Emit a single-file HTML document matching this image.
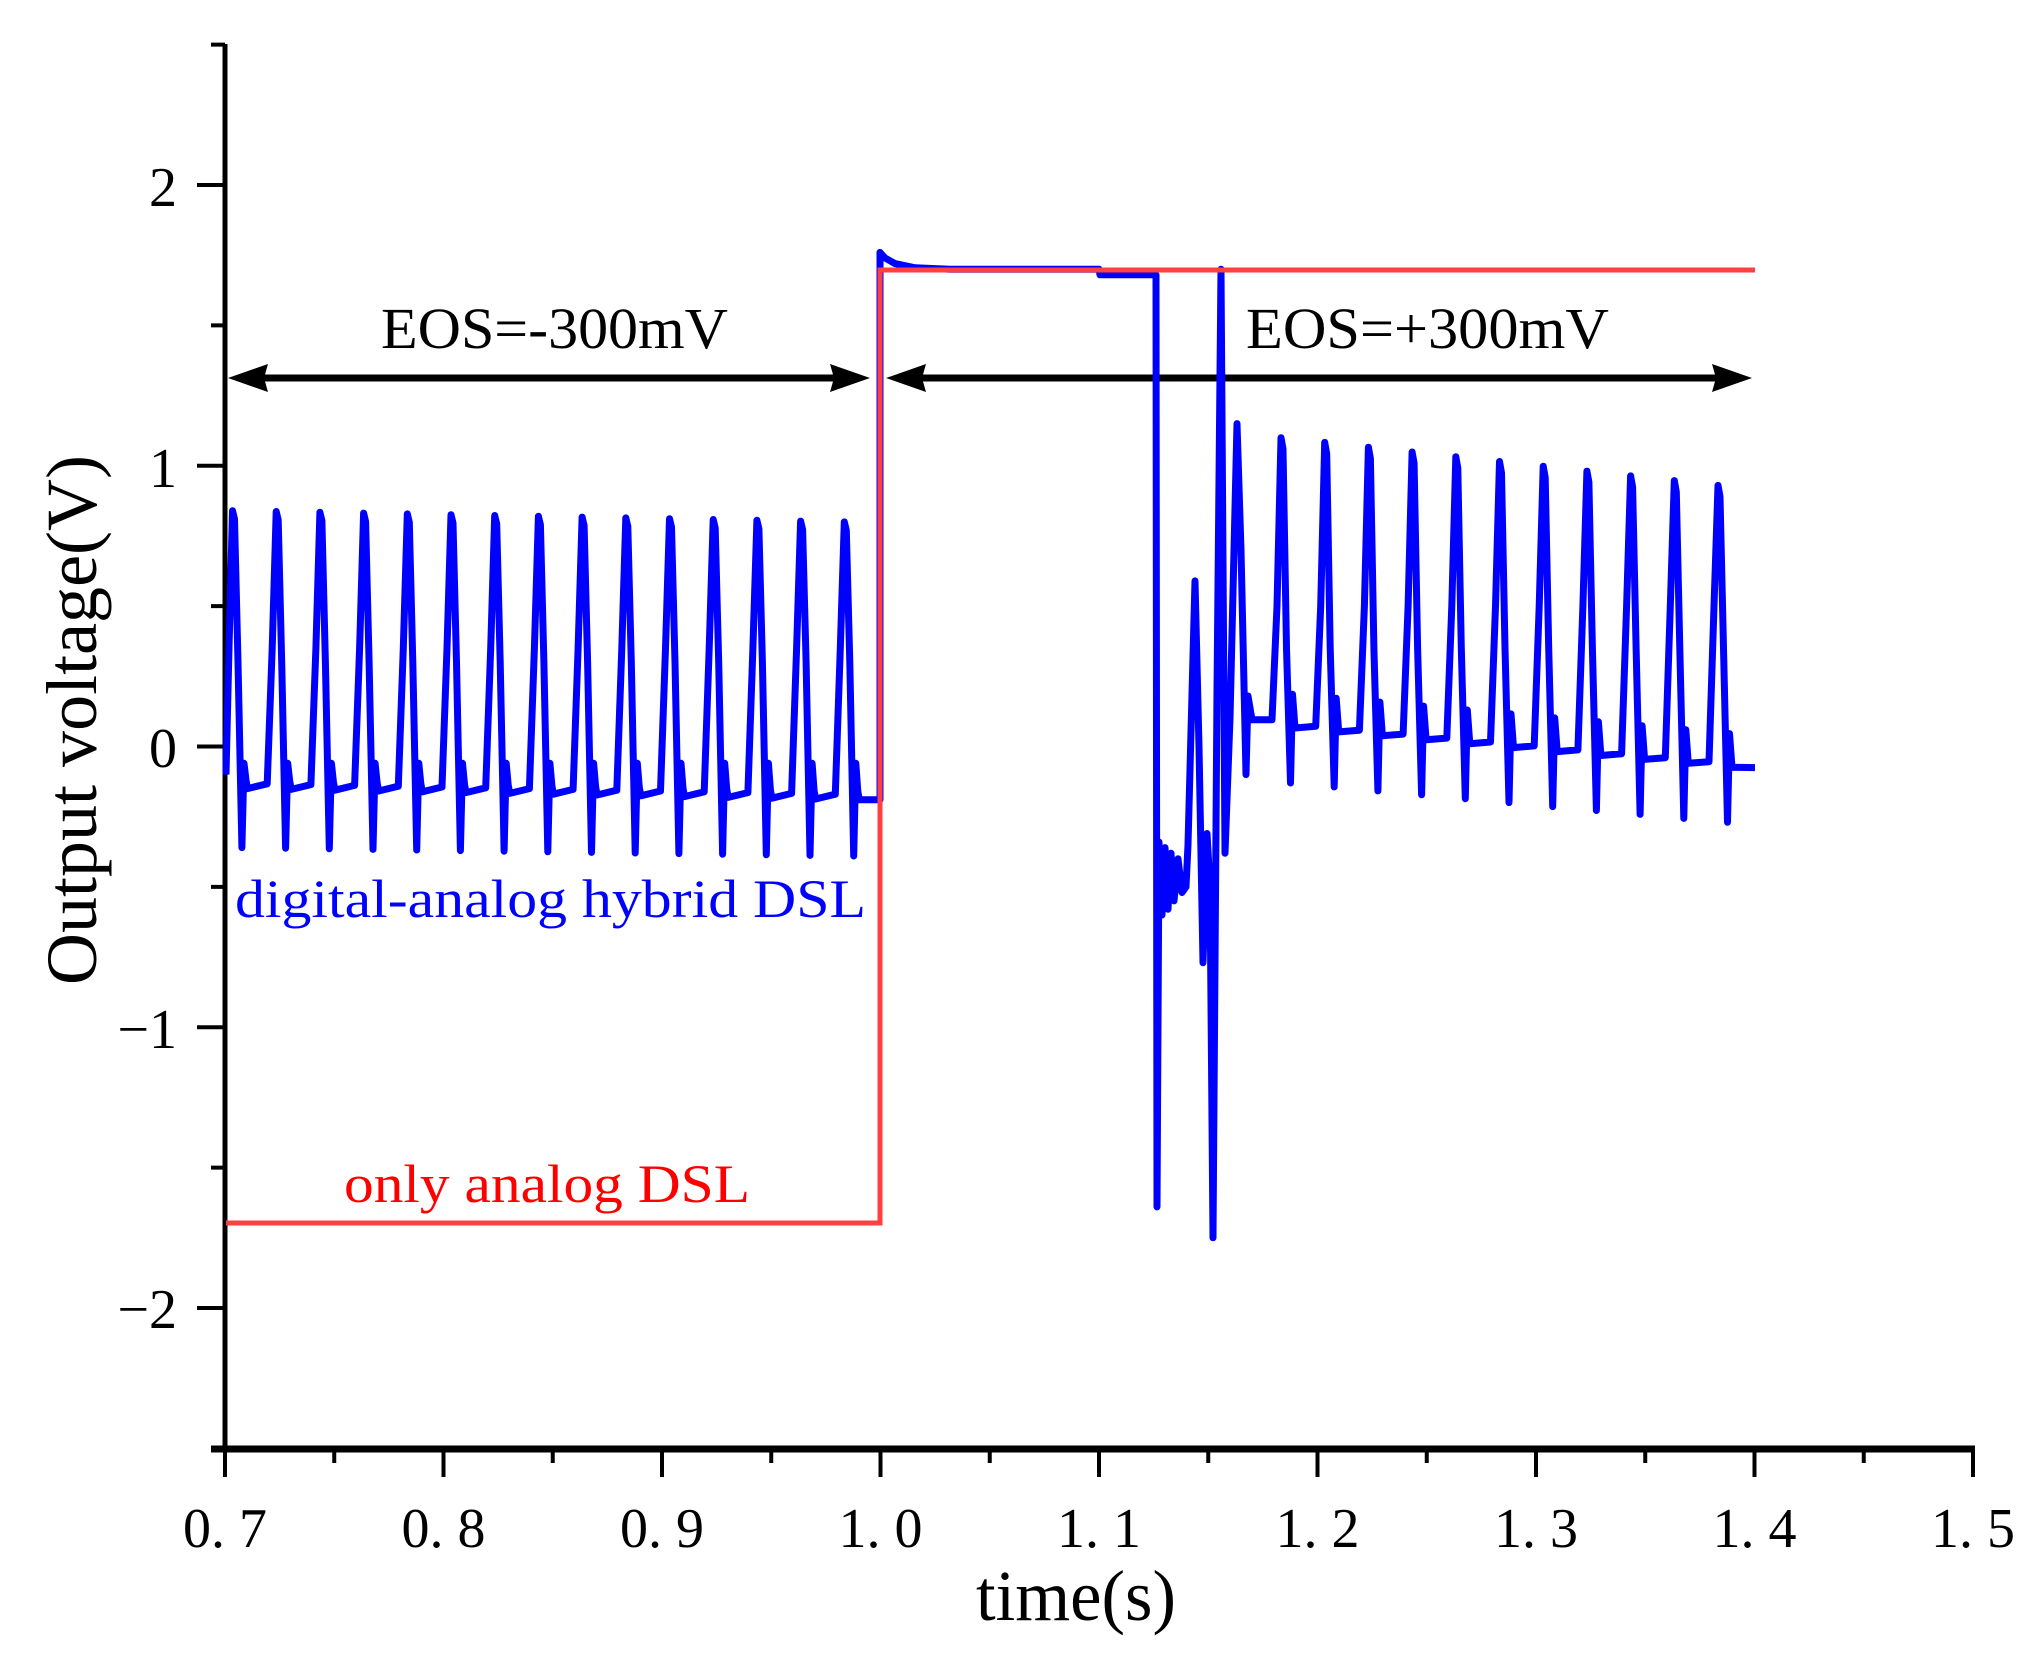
<!DOCTYPE html>
<html><head><meta charset="utf-8"><style>html,body{margin:0;padding:0;background:#fff}svg{display:block}text{font-family:"Liberation Serif","Times New Roman",serif}</style></head>
<body>
<svg id="s" width="2040" height="1675" viewBox="0 0 2040 1675" xmlns="http://www.w3.org/2000/svg">
<rect width="2040" height="1675" fill="#fff"/>
<g id="ticks" stroke="#000" stroke-width="4"></g>
<line x1="225" y1="44" x2="225" y2="1452" stroke="#000" stroke-width="5"/>
<line x1="211" y1="1449" x2="1975" y2="1449" stroke="#000" stroke-width="7"/>
<g font-size="56" text-anchor="end">
<text x="177" y="206">2</text>
<text x="177" y="487">1</text>
<text x="177" y="767">0</text>
<text x="177" y="1048">−1</text>
<text x="177" y="1328">−2</text>
</g>
<g id="xl" font-size="56"></g>
<text x="1076" y="1620" font-size="72" text-anchor="middle" textLength="200" lengthAdjust="spacingAndGlyphs">time(s)</text>
<text transform="translate(96,720) rotate(-90)" font-size="72" text-anchor="middle" textLength="530" lengthAdjust="spacingAndGlyphs">Output voltage(V)</text>
<text x="381" y="348" font-size="58" textLength="347" lengthAdjust="spacingAndGlyphs">EOS=-300mV</text>
<text x="1246" y="348" font-size="58" textLength="363" lengthAdjust="spacingAndGlyphs">EOS=+300mV</text>
<g fill="#000">
<line x1="250" y1="378" x2="840" y2="378" stroke="#000" stroke-width="7"/>
<polygon points="228,378 268,364 264,378 268,392"/>
<polygon points="870,378 830,364 834,378 830,392"/>
<line x1="915" y1="378" x2="1725" y2="378" stroke="#000" stroke-width="7"/>
<polygon points="886,378 926,364 922,378 926,392"/>
<polygon points="1752,378 1712,364 1716,378 1712,392"/>
</g>
<text x="235" y="917" font-size="54" fill="#0000ff" textLength="631" lengthAdjust="spacingAndGlyphs">digital-analog hybrid DSL</text>
<text x="344" y="1202" font-size="54" fill="#ff0000" textLength="406" lengthAdjust="spacingAndGlyphs">only analog DSL</text>
<path id="blue" fill="none" stroke="#0000ff" stroke-width="7" stroke-linejoin="round"/>
<polyline points="226,1223 880,1223 880,270 1755,270" fill="none" stroke="#ff4040" stroke-width="5"/>
</svg>
<script>
function Y(v){return 746.5-v*280.75;}
var t=document.getElementById('ticks'),h='';
for(var i=0;i<=16;i++){var x=225+i*109.25;var L=(i%2==0)?28:14;h+='<line x1="'+x+'" y1="1449" x2="'+x+'" y2="'+(1449+L)+'"/>';}
for(var i=0;i<=10;i++){var v=2.5-i*0.5;var y=Y(v);var L=(i%2==1)?28:14;h+='<line x1="'+(225-L)+'" y1="'+y+'" x2="225" y2="'+y+'"/>';}
t.innerHTML=h;
var xl=document.getElementById('xl'),s='';
var labs=['0. 7','0. 8','0. 9','1. 0','1. 1','1. 2','1. 3','1. 4','1. 5'];
for(var i=0;i<9;i++){var x=225+i*218.5;s+='<text x="'+(x-42)+'" y="1547" textLength="84" lengthAdjust="spacingAndGlyphs">'+labs[i]+'</text>';}
xl.innerHTML=s;
var p=[];function a(x,v){p.push(x.toFixed(1)+','+Y(v).toFixed(1));}
a(226,-0.1);
for(var k=0;k<15;k++){
 var P=233.5+43.7*k,pk=0.84-0.04*k/14,b=-0.15-0.04*k/14,mn=-0.36-0.03*k/14;
 if(k>0){a(P-10,b+0.02);a(P-5,0.35);}else{a(229,0.35);}
 a(P-1,pk);a(P+1,pk-0.03);a(P+4.5,0.3);a(P+8.4,mn);a(P+10.5,-0.06);a(P+12.5,b+0.03);a(P+14,b);
}
a(880,-0.19);a(880,1.76);a(885,1.74);a(895,1.72);a(915,1.705);a(950,1.7);a(1099,1.7);a(1100,1.68);a(1156,1.68);
a(1157,-1.64);a(1159,-0.34);a(1162,-0.6);a(1165,-0.36);a(1168,-0.58);a(1171,-0.38);a(1174,-0.55);a(1178,-0.4);a(1182,-0.52);a(1186,-0.5);a(1188,-0.35);
a(1195,0.59);a(1199,0.0);a(1203,-0.77);a(1207,-0.31);a(1210,-0.5);a(1213,-1.75);a(1217,0.2);a(1221,1.7);a(1225,-0.38);a(1230,0.1);a(1237,1.15);a(1241,0.7);a(1246,-0.1);a(1248,0.18);a(1252,0.095);a(1272,0.095);
for(var j=0;j<11;j++){
 var P=1282+43.7*j,pk=1.1-0.17*j/10,b=0.066-0.14*j/10,mn=-0.13-0.14*j/10;
 if(j>0){a(P-10,b+0.02);}
 a(P-5,0.5);a(P-1,pk);a(P+1,pk-0.04);a(P+4.5,0.35);a(P+8.5,mn);a(P+10.5,b+0.12);a(P+13,b);
}
a(1755,-0.075);
document.getElementById('blue').setAttribute('d','M'+p.join(' L'));
</script>
</body></html>
